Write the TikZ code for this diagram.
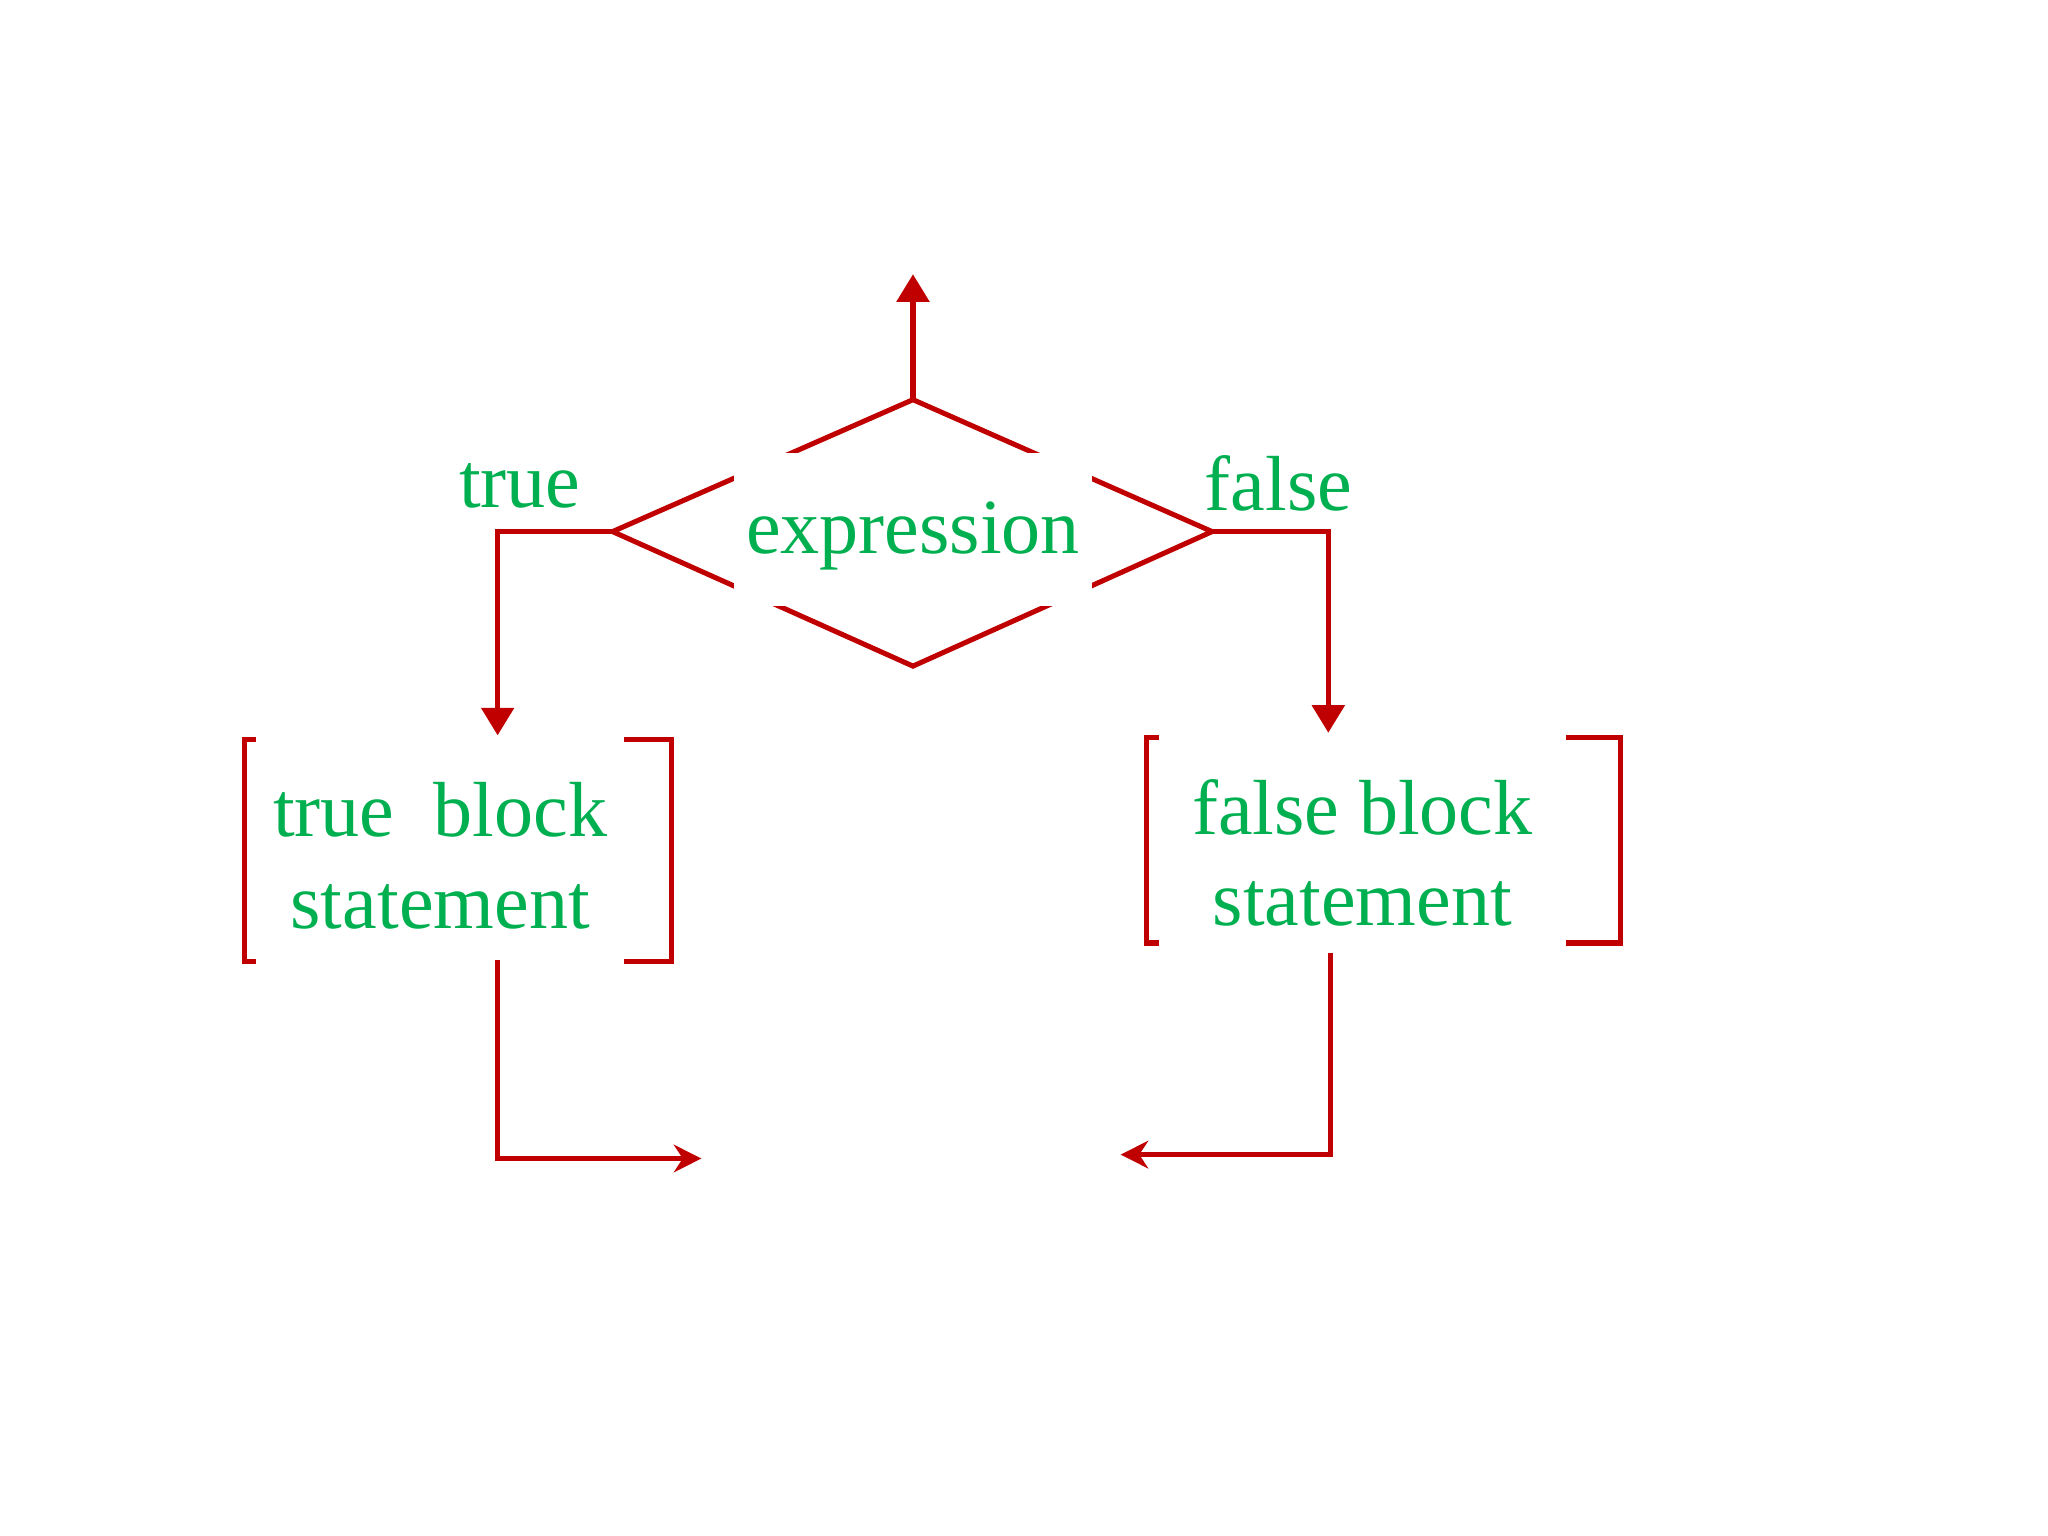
\documentclass[tikz,border=0pt]{standalone}
\usepackage{fontspec}
\setmainfont{Liberation Serif}
\usetikzlibrary{arrows.meta}
\definecolor{ln}{RGB}{192,0,0}
\definecolor{tx}{RGB}{0,176,80}
\begin{document}
\begin{tikzpicture}[x=0.01cm,y=-0.01cm,
  ln/.style={draw=ln,line width=1.1pt},
  arr/.style={ln,-{Triangle[length=6pt,width=7pt]}},
  lbl/.style={text=tx,font=\fontsize{17}{20}\selectfont,align=center}]
\useasboundingbox (0,0) rectangle (1568,1176);
\coordinate (dt) at (699,306); \coordinate (dl) at (469,407);
\coordinate (dr) at (928,407); \coordinate (db) at (699,510);
\draw[ln] (dt)--(dr)--(db)--(dl)--cycle;
\fill[white] (562,347) rectangle (836,464);
\node[lbl] (ex) at (699,410) {expression};
\coordinate (up) at (699,210);
\draw[arr] (dt)--(up);
\node[lbl] (tl) at (398,372) {true};
\node[lbl] (fl) at (979,370) {false};
\coordinate (t1) at (381,407); \coordinate (t2) at (381,563);
\draw[arr] (dl)--(t1)--(t2);
\coordinate (f1) at (1017,407); \coordinate (f2) at (1017,561);
\draw[arr] (dr)--(f1)--(f2);
% true block
\draw[ln] (196,566)--(187,566)--(187,736)--(196,736);
\draw[ln] (478,566)--(514,566)--(514,736)--(478,736);
\node[lbl] (tb) at (337,655) {true\ \ block\\statement};
% false block
\draw[ln] (887,565)--(878,565)--(878,722)--(887,722);
\draw[ln] (1199,565)--(1241,565)--(1241,722)--(1199,722);
\node[lbl] (fb) at (1043,653) {false block\\statement};
\coordinate (b1) at (381,735); \coordinate (b2) at (381,887); \coordinate (b3) at (537,887);
\draw[ln,-{Stealth[length=6pt,width=6pt]}] (b1)--(b2)--(b3);
\coordinate (c1) at (1019,730); \coordinate (c2) at (1019,884); \coordinate (c3) at (858,884);
\draw[ln,-{Stealth[length=6pt,width=6pt]}] (c1)--(c2)--(c3);
\end{tikzpicture}
\end{document}
